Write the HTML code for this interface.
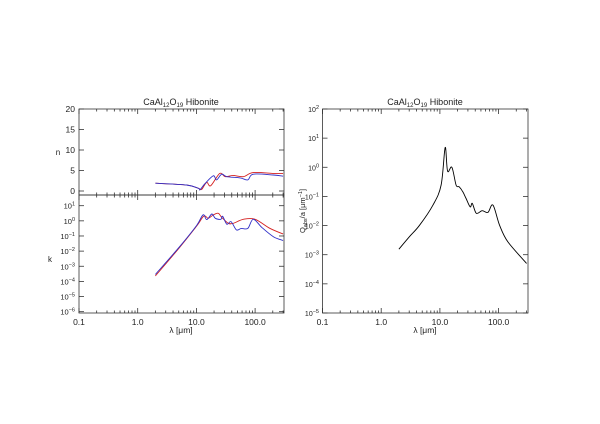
<!DOCTYPE html>
<html><head><meta charset="utf-8"><style>
html,body{margin:0;padding:0;background:#fff;}
svg{display:block;font-family:"Liberation Sans",sans-serif;}
</style></head><body>
<svg id="c" width="600" height="424" viewBox="0 0 600 424"></svg>
<script>
// data (wavelength in micron)
const nRedLam=[2,6.8,10.8,12.3,14.9,17.5,25,31,42,63,93,205,300];
const nRedVal=[1.9,1.46,0.65,0.4,2.1,1.3,4.3,3.5,3.8,3.5,4.5,4.3,4.3];
const nBlueLam=[2,6.8,10.8,11.5,14,19.4,22,27,33,56,75,93,205,300];
const nBlueVal=[1.9,1.46,0.65,0.3,1.8,3.7,2.7,4.1,3.5,3.2,2.7,4.1,3.9,3.6];
const kRedLam=[2,5.2,10.1,13.4,15.9,19.4,23.6,27,35,42.5,63,100,178,300];
const kRedLog=[-3.64,-1.75,-0.34,0.32,0.17,0.39,0.5,0.23,-0.16,-0.16,0.1,0.1,-0.49,-0.87];
const kBlueLam=[2,5.2,10.1,13,15,18.3,21,26,28,33,39,48,58,75,93,130,205,300];
const kBlueLog=[-3.54,-1.7,-0.3,0.4,0.08,0.45,0.17,0.1,0.3,-0.22,-0.06,-0.6,-0.5,-0.5,0.1,-0.43,-1.05,-1.3];
const qLam=[2,3,4.5,7.6,10.5,12.3,13.5,16,18.9,21.3,24.6,27.9,32.8,35.6,41.7,52.5,65.6,80.2,104,144,300];
const qLog=[-2.81,-2.39,-1.99,-1.3,-0.61,0.68,-0.13,0.0,-0.61,-0.67,-0.84,-1.07,-1.36,-1.24,-1.58,-1.49,-1.55,-1.3,-1.99,-2.56,-3.3];
const xTickLabels=["0.1","1.0","10.0","100.0"];
const nTickLabels=["0","5","10","15","20"];

const S="http://www.w3.org/2000/svg", svg=document.getElementById('c');
function el(t,a,p){const e=document.createElementNS(S,t);for(const k in a)e.setAttribute(k,a[k]);(p||svg).appendChild(e);return e;}
function txt(x,y,s,anchor,size,name,extra){const t=el('text',Object.assign({x:x,y:y,'font-size':size||8,'text-anchor':anchor||'middle',fill:'#222'},extra||{}));t.innerHTML=s;

return t;}
function ln(x1,y1,x2,y2,name){const l=el('line',{x1,y1,x2,y2,stroke:'#333','stroke-width':0.8});

return l;}

function xAxis(x0,dec){return lam=>x0+(Math.log10(lam)+1)*dec;}
const xL=xAxis(79,58.7), xR=xAxis(322.5,58.7);
const yN=n=>191-n*4.1;
const yK=l=>205.7-(l-1)*15.14;
const yQ=l=>109+(2-l)*29.14;

function frame(x0,y0,x1,y1,name){const r=el('rect',{x:x0,y:y0,width:x1-x0,height:y1-y0,fill:'none',stroke:'#333','stroke-width':0.8});

}
function xTicks(xf,yTop,yBot,labels){
  for(let d=-1;d<=2;d++)for(let m=1;m<=9;m++){const v=m*Math.pow(10,d);if(v>300)continue;const x=xf(v);const h=m==1?5:2.5;
    ln(x,yBot,x,yBot-h,'x-tick');ln(x,yTop,x,yTop+h,'x-tick');}
  if(labels)xTickLabels.forEach((s,i)=>txt(xf(Math.pow(10,i-1)),yBot+12,s,'middle',8.5,'x-tick-label'));
}
function sup(e){return '10<tspan dy="-3" font-size="5.5">'+e+'</tspan>';}
function path(lams,vals,xf,yf,color,name){
  const P=lams.map((l,i)=>[xf(l),yf(vals[i])]);
  let d='M'+P[0][0].toFixed(1)+','+P[0][1].toFixed(1);
  for(let i=0;i<P.length-1;i++){const p0=P[Math.max(0,i-1)],p1=P[i],p2=P[i+1],p3=P[Math.min(P.length-1,i+2)];
    const t=1/6;
    const c1=[p1[0]+(p2[0]-p0[0])*t,p1[1]+(p2[1]-p0[1])*t],c2=[p2[0]-(p3[0]-p1[0])*t,p2[1]-(p3[1]-p1[1])*t];
    d+='C'+c1.map(v=>v.toFixed(1)).join(',')+' '+c2.map(v=>v.toFixed(1)).join(',')+' '+p2.map(v=>v.toFixed(1)).join(',');}
  const p=el('path',{d:d,fill:'none',stroke:color,'stroke-width':0.9,'stroke-linejoin':'round'});
  
  }

// left top: n
frame(79,109,284,195,'n-panel-frame');
xTicks(xL,109,195,false);
nTickLabels.forEach(s=>{const y=yN(+s);ln(79,y,84,y,'n-y-tick');ln(284,y,279,y,'n-y-tick');txt(75,y+3,s,'end',8.5,'n-y-tick-label');});
txt(58,155,'n','middle',8,'n-axis-title');
path(nRedLam,nRedVal,xL,yN,'#d42020','n-red-series');
path(nBlueLam,nBlueVal,xL,yN,'#3030c8','n-blue-series');
txt(181,105,'CaAl<tspan dy="2" font-size="6">12</tspan><tspan dy="-2">O</tspan><tspan dy="2" font-size="6">19</tspan><tspan dy="-2"> Hibonite</tspan>','middle',9,'left-title');

// left bottom: k
frame(79,195,284,313,'k-panel-frame');
xTicks(xL,195,313,true);
for(let e=1;e>=-6;e--){const y=yK(e);ln(79,y,84,y,'k-y-tick');ln(284,y,279,y,'k-y-tick');txt(75,y+3,sup(e<0?'−'+(-e):e),'end',7.5,'k-y-tick-label');}
txt(50,262,'k','middle',8,'k-axis-title');
path(kRedLam,kRedLog,xL,yK,'#d42020','k-red-series');
path(kBlueLam,kBlueLog,xL,yK,'#3030c8','k-blue-series');
txt(181,333,'λ [μm]','middle',8.5,'left-x-axis-title');

// right: Q/a
frame(322.5,109,528,313,'q-panel-frame');
xTicks(xR,109,313,true);
for(let e=2;e>=-5;e--){const y=yQ(e);ln(322.5,y,327.5,y,'q-y-tick');ln(528,y,523,y,'q-y-tick');txt(319,y+3,sup(e<0?'−'+(-e):e),'end',7,'q-y-tick-label');}
txt(0,0,'Q<tspan dy="2" font-size="5.5">abs</tspan><tspan dy="-2">/a  [μm</tspan><tspan dy="-3" font-size="5.5">−1</tspan><tspan dy="3">]</tspan>','middle',7.5,'q-axis-title',{transform:'translate(305,211) rotate(-90)'});
path(qLam,qLog,xR,yQ,'#000','q-series');
txt(425,105,'CaAl<tspan dy="2" font-size="6">12</tspan><tspan dy="-2">O</tspan><tspan dy="2" font-size="6">19</tspan><tspan dy="-2"> Hibonite</tspan>','middle',9,'right-title');
txt(425,333,'λ [μm]','middle',8.5,'right-x-axis-title');
</script>
</body></html>
